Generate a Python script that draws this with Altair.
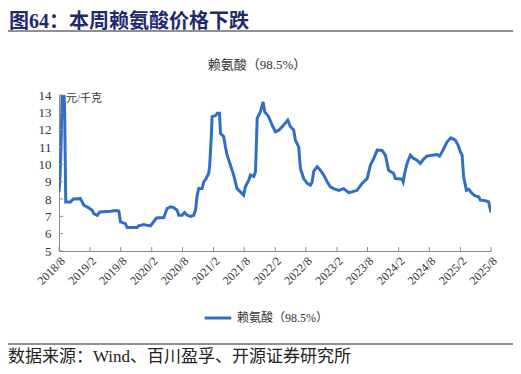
import altair as alt
import pandas as pd

# ---- data ----
dates = [
    "2018-08-01", "2018-08-07", "2018-08-13", "2018-08-20", "2018-08-27", "2018-09-03", "2018-09-10",
    "2018-10-08", "2018-10-26", "2018-12-06", "2018-12-26",
    "2019-01-24", "2019-02-13", "2019-02-23", "2019-03-15", "2019-03-30", "2019-06-02", "2019-07-01",
    "2019-07-21", "2019-07-31", "2019-08-29", "2019-09-08", "2019-11-07", "2019-11-16", "2019-12-16",
    "2020-01-05", "2020-01-24", "2020-02-29", "2020-04-12", "2020-05-02", "2020-05-22", "2020-06-10",
    "2020-06-30", "2020-07-10", "2020-07-30", "2020-08-13", "2020-08-29", "2020-09-17", "2020-10-07",
    "2020-10-17", "2020-10-27", "2020-11-05", "2020-11-25", "2020-12-05", "2020-12-19",
    "2021-01-03", "2021-01-09", "2021-01-18", "2021-01-23", "2021-02-12", "2021-02-22", "2021-03-08",
    "2021-03-14", "2021-04-02", "2021-04-12", "2021-04-22", "2021-05-12", "2021-05-31", "2021-06-20",
    "2021-07-10", "2021-07-29", "2021-08-08", "2021-08-28", "2021-09-07", "2021-09-27", "2021-10-07",
    "2021-10-17", "2021-11-05", "2021-11-21", "2021-12-01", "2021-12-24",
    "2022-01-13", "2022-02-02", "2022-02-22", "2022-03-23", "2022-04-16", "2022-05-02", "2022-05-21",
    "2022-05-31", "2022-06-20", "2022-06-30", "2022-07-19", "2022-08-09", "2022-08-28", "2022-09-07",
    "2022-09-17", "2022-10-07", "2022-10-26", "2022-11-15", "2022-12-05", "2022-12-24",
    "2023-01-13", "2023-02-12", "2023-03-13", "2023-04-12", "2023-05-02", "2023-05-31", "2023-06-30",
    "2023-07-30", "2023-08-18", "2023-09-07", "2023-09-27", "2023-10-26", "2023-11-15", "2023-12-04",
    "2024-01-03", "2024-01-13", "2024-02-22", "2024-02-28", "2024-03-08", "2024-03-22", "2024-04-11",
    "2024-04-30", "2024-05-20", "2024-06-09", "2024-06-28", "2024-07-18", "2024-08-17", "2024-09-16",
    "2024-10-01", "2024-10-21", "2024-11-14", "2024-12-07",
    "2025-01-02", "2025-01-18", "2025-02-01", "2025-02-11", "2025-02-20", "2025-03-08", "2025-03-22",
    "2025-04-11", "2025-04-30", "2025-05-20", "2025-05-30", "2025-06-29", "2025-07-18", "2025-08-01",
]
prices = [
    8.4, 9.3, 11.0, 14.4, 14.8, 13.3, 7.83,
    7.83, 8.0, 8.02, 7.64,
    7.49, 7.35, 7.16, 7.06, 7.25, 7.3, 7.33,
    7.3, 6.68, 6.58, 6.35, 6.35, 6.45, 6.52,
    6.48, 6.45, 6.9, 6.93, 7.45, 7.55, 7.5,
    7.35, 7.06, 7.06, 7.22, 7.06, 7.0, 7.06,
    7.35, 8.22, 8.6, 8.6, 8.99, 9.18,
    9.47, 9.95, 11.5, 12.75, 12.8, 12.94, 12.94,
    11.79, 11.59, 11.01, 10.53, 9.95, 9.38, 8.6,
    8.41, 8.22, 8.7, 9.09, 9.38, 9.3, 9.57,
    12.65, 13.03, 13.6, 13.03, 12.75,
    12.27, 11.88, 11.97, 12.27, 12.55, 12.17, 11.98,
    11.4, 11.01, 9.76, 9.18, 8.9, 8.8, 8.97,
    9.61, 9.86, 9.66, 9.38, 8.99, 8.7,
    8.6, 8.5, 8.6, 8.37, 8.41, 8.5, 8.9,
    9.18, 9.95, 10.34, 10.82, 10.8, 10.53, 9.66,
    9.47, 9.18, 9.14, 8.99, 9.47, 10.05, 10.53,
    10.34, 10.24, 10.05, 10.3, 10.47, 10.53, 10.57,
    10.47, 10.82, 11.3, 11.53,
    11.4, 11.11, 10.72, 10.53, 9.28, 8.51, 8.56,
    8.32, 8.18, 8.13, 7.93, 7.9, 7.83, 7.22,
]
assert len(dates) == len(prices)

series_name = "赖氨酸（98.5%）"
tick_dates = [
    "2018-08-01", "2019-02-01", "2019-08-01", "2020-02-01", "2020-08-01",
    "2021-02-01", "2021-08-01", "2022-02-01", "2022-08-01", "2023-02-01",
    "2023-08-01", "2024-02-01", "2024-08-01", "2025-02-01", "2025-08-01",
]
y_ticks = [5, 6, 7, 8, 9, 10, 11, 12, 13, 14]

heading = "图64：本周赖氨酸价格下跌"
chart_title = "赖氨酸（98.5%）"
unit_label = "元/千克"
source_note = "数据来源：Wind、百川盈孚、开源证券研究所"

# ---- layout ----
W, H = 432, 156
LEFT, TOP = 51, 87
SERIF = "Liberation Serif, Noto Sans CJK SC"
CJK = "Noto Sans CJK SC"
LINE_COLOR = "#2F6FC4"
AXIS_COLOR = "#8C8C8C"

df = pd.DataFrame({"date": dates, "price": prices, "series": series_name})
ticks_df = pd.DataFrame({"date": tick_dates})
yt_df = pd.DataFrame({"price": y_ticks})
tick_ms = [int(pd.Timestamp(d, tz="UTC").value // 1_000_000) for d in tick_dates]

x_scale = alt.Scale(type="utc", domain=[tick_ms[0], tick_ms[-1]])
y_scale = alt.Scale(domain=[5, 14], nice=False, zero=False)

x_axis = alt.Axis(
    values=tick_ms,
    labelExpr="utcFormat(datum.value, '%Y') + '/' + (utcmonth(datum.value) + 1)",
    title=None, labelAngle=-45, labelFont="Liberation Serif", labelFontSize=12,
    labelColor="#333333", ticks=False, grid=False, domainColor=AXIS_COLOR,
    labelPadding=4, labelOverlap=False, labelBound=False, labelFlush=False,
)
y_axis = alt.Axis(
    values=y_ticks, title=None, labelFont="Liberation Serif", labelFontSize=13,
    labelColor="#333333", ticks=False, grid=False, domainColor=AXIS_COLOR,
    labelPadding=8, labelOverlap=False, labelFlush=False,
)

line = alt.Chart(df).mark_line(strokeWidth=3, clip=True).encode(
    x=alt.X("date:T", scale=x_scale, axis=x_axis),
    y=alt.Y("price:Q", scale=y_scale, axis=y_axis),
    color=alt.Color(
        "series:N",
        scale=alt.Scale(range=[LINE_COLOR]),
        legend=alt.Legend(
            title=None, orient="none", legendX=144, legendY=208,
            symbolType="stroke", symbolStrokeWidth=3, symbolSize=700,
            labelFont=SERIF, labelFontSize=12, labelColor="#333333",
        ),
    ),
)

x_ticks = alt.Chart(ticks_df).mark_rule(color=AXIS_COLOR, strokeWidth=1).encode(
    x=alt.X("date:T", scale=x_scale, axis=x_axis),
    y=alt.value(H),
    y2=alt.value(H - 4),
)
y_tick_marks = alt.Chart(yt_df).mark_rule(color=AXIS_COLOR, strokeWidth=1).encode(
    y=alt.Y("price:Q", scale=y_scale, axis=y_axis),
    x=alt.value(0),
    x2=alt.value(4),
)

def label(text, x, y, size, color="#333333", font=CJK, weight="normal", align="left"):
    return alt.Chart(pd.DataFrame({"t": [text]})).mark_text(
        align=align, baseline="middle", fontSize=size, font=font,
        fontWeight=weight, color=color,
    ).encode(text="t:N", x=alt.value(x), y=alt.value(y))

heading_mark = label(heading, -50, -73, 20, color="#1F2A6E", font=SERIF, weight="bold")
title_mark = label(chart_title, 198, -30, 13, font=SERIF, align="center")
unit_mark = label(unit_label, 7, 4, 11, font=SERIF)
source_mark = label(source_note, -51, 262, 17, color="#222222", font=SERIF)

top_rule = alt.Chart(pd.DataFrame({"a": [0]})).mark_rule(color="#222222", strokeWidth=1.2).encode(
    x=alt.value(-51), x2=alt.value(454), y=alt.value(-64)
)
bottom_rule = alt.Chart(pd.DataFrame({"a": [0]})).mark_rule(color="#222222", strokeWidth=1.2).encode(
    x=alt.value(-51), x2=alt.value(454), y=alt.value(249)
)

chart = alt.layer(
    line, x_ticks, y_tick_marks, heading_mark, title_mark, unit_mark, source_mark, top_rule, bottom_rule
).properties(
    width=W, height=H,
    autosize=alt.AutoSizeParams(type="none"),
    padding={"left": LEFT, "top": TOP, "right": 22, "bottom": 115},
).configure_view(stroke=None)

chart.save("out.html", embed_options={"renderer": "svg", "actions": False})
